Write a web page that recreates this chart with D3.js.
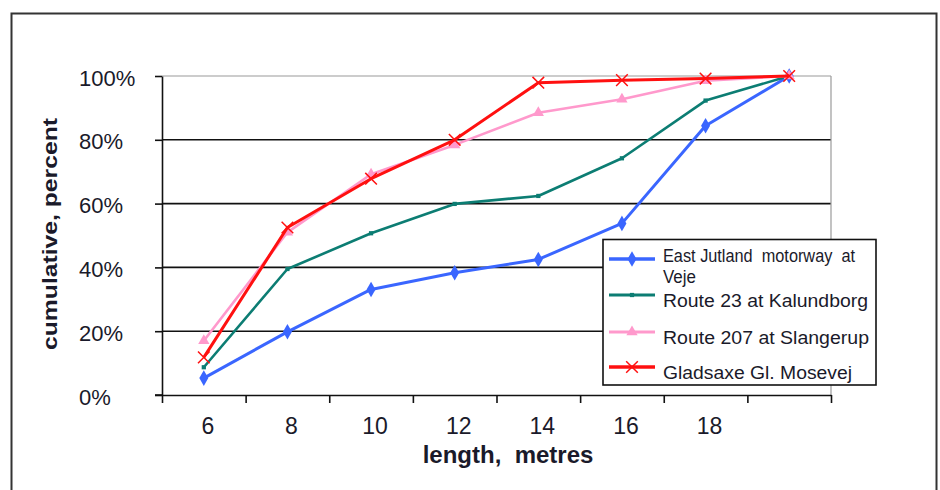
<!DOCTYPE html>
<html>
<head>
<meta charset="utf-8">
<script src="https://cdn.jsdelivr.net/npm/d3@7"></script>
<style>
  body { margin: 0; background: #fff; }
  svg { display: block; font-family: "Liberation Sans", Arial, sans-serif; }
</style>
</head>
<body>
<div id="chart"></div>
<script>
// categories: length in metres (last class has no label)
const lengths = [6, 8, 10, 12, 14, 16, 18, 20]
const lengthLabels = ['6', '8', '10', '12', '14', '16', '18', '']
const yTicks = [0, 20, 40, 60, 80, 100]

// cumulative percent per site
const eastJutland = [5.3, 19.8, 33.1, 38.3, 42.5, 53.8, 84.4, 100]
const route23 = [8.7, 39.5, 50.7, 59.9, 62.4, 74.2, 92.3, 100]
const route207 = [17, 51, 69.2, 78.4, 88.5, 92.7, 98.5, 100]
const gladsaxe = [11.8, 52.5, 67.8, 80, 97.9, 98.7, 99.2, 100]

const seriesNames = [['East Jutland  motorway  at', 'Veje'], ['Route 23 at Kalundborg'], ['Route 207 at Slangerup'], ['Gladsaxe Gl. Mosevej']]

const width = 940, height = 490
const plot = { left: 162, right: 831, top: 76, bottom: 395 }

const svg = d3.select('#chart').append('svg')
  .attr('width', width)
  .attr('height', height)

svg.append('rect').attr('width', width).attr('height', height).attr('fill', '#fff')
// outer chart frame
svg.append('rect')
  .attr('x', 11.5).attr('y', 13.5)
  .attr('width', 925).attr('height', 500)
  .attr('fill', 'none').attr('stroke', '#333').attr('stroke-width', 2)

const x = d3.scaleLinear().domain([0, lengths.length]).range([plot.left, plot.right])
const y = d3.scaleLinear().domain([0, 100]).range([plot.bottom, plot.top])

// gridlines
svg.append('g')
  .selectAll('line')
  .data(yTicks.filter(d => d > 0))
  .join('line')
  .attr('x1', plot.left).attr('x2', plot.right)
  .attr('y1', d => y(d)).attr('y2', d => y(d))
  .attr('stroke', d => d === 100 ? '#9a9a9a' : '#111')
  .attr('stroke-width', d => d === 100 ? 1.2 : 1.6)

// right border of plot area
svg.append('line')
  .attr('x1', plot.right).attr('x2', plot.right)
  .attr('y1', plot.top).attr('y2', plot.bottom)
  .attr('stroke', '#9a9a9a').attr('stroke-width', 1.2)

// y axis
const yAxis = svg.append('g')
  .attr('transform', `translate(${plot.left},0)`)
  .call(d3.axisLeft(y).tickValues(yTicks).tickSize(7).tickSizeOuter(0).tickFormat(d => d + '%'))
yAxis.select('.domain').attr('stroke', '#111').attr('stroke-width', 1.6)
yAxis.selectAll('.tick line').attr('stroke', '#111').attr('stroke-width', 1.6)
yAxis.selectAll('.tick text')
  .attr('text-anchor', 'start')
  .attr('x', 79 - plot.left)
  .attr('dy', null)
  .attr('y', 9)
  .attr('font-size', 22)
  .attr('font-family', '"Liberation Sans", Arial, sans-serif')
  .attr('fill', '#1a1a2a')

// x axis: ticks on category boundaries
const xAxis = svg.append('g')
  .attr('transform', `translate(0,${plot.bottom})`)
  .call(d3.axisBottom(x).tickValues(d3.range(lengths.length + 1)).tickSize(8).tickSizeOuter(0).tickFormat(''))
xAxis.select('.domain').attr('stroke', '#111').attr('stroke-width', 1.6)
xAxis.selectAll('.tick line').attr('stroke', '#111').attr('stroke-width', 1.6)
svg.append('line')
  .attr('x1', plot.left - 7).attr('x2', plot.left)
  .attr('y1', plot.bottom).attr('y2', plot.bottom)
  .attr('stroke', '#111').attr('stroke-width', 1.6)

svg.append('g')
  .selectAll('text')
  .data(lengthLabels)
  .join('text')
  .attr('x', (d, i) => x(i + 0.5) + 4)
  .attr('y', 434)
  .attr('text-anchor', 'middle')
  .attr('font-size', 23)
  .attr('fill', '#1a1a2a')
  .text(d => d)

// axis titles
svg.append('text')
  .attr('x', 508).attr('y', 463)
  .attr('text-anchor', 'middle')
  .attr('font-size', 24).attr('font-weight', 'bold')
  .attr('fill', '#1a1a2a')
  .attr('xml:space', 'preserve')
  .text('length,  metres')

svg.append('text')
  .attr('transform', 'translate(57,234) rotate(-90)')
  .attr('text-anchor', 'middle')
  .attr('font-size', 21).attr('font-weight', 'bold')
  .attr('fill', '#1a1a2a')
  .attr('textLength', 232).attr('lengthAdjust', 'spacingAndGlyphs')
  .text('cumulative, percent')

// series
const series = [
  { values: eastJutland, color: '#3a66ff', width: 3, symbol: d3.symbolDiamond, size: 70, stroke: false },
  { values: route23, color: '#0c7d73', width: 2.6, symbol: d3.symbolSquare, size: 18, stroke: false },
  { values: route207, color: '#ff99cc', width: 2.6, symbol: d3.symbolTriangle, size: 55, stroke: false },
  { values: gladsaxe, color: '#ff1010', width: 3, symbol: d3.symbolX, size: 90, stroke: true }
]

const line = d3.line()
  .x((d, i) => x(i + 0.5))
  .y(d => y(d))

series.forEach(s => {
  const g = svg.append('g')
  g.append('path')
    .attr('d', line(s.values))
    .attr('fill', 'none')
    .attr('stroke', s.color)
    .attr('stroke-width', s.width)
    .attr('stroke-linejoin', 'round')
  g.selectAll('path.mark')
    .data(s.values)
    .join('path')
    .attr('class', 'mark')
    .attr('transform', (d, i) => `translate(${x(i + 0.5)},${y(d)})`)
    .attr('d', d3.symbol(s.symbol, s.size))
    .attr('fill', s.stroke ? 'none' : s.color)
    .attr('stroke', s.stroke ? s.color : 'none')
    .attr('stroke-width', 1.5)
})

// legend
const legend = svg.append('g')
legend.append('rect')
  .attr('x', 603).attr('y', 239.5)
  .attr('width', 273).attr('height', 145.5)
  .attr('fill', '#fff').attr('stroke', '#111').attr('stroke-width', 1.6)

// sample line rows and the width each label line takes in the box
const legendY = [259, 295, 332, 367]
const legendTextWidth = [[192, 33], [205], [206], [189]]
series.forEach((s, i) => {
  const ly = legendY[i]
  legend.append('line')
    .attr('x1', 609).attr('x2', 655)
    .attr('y1', ly).attr('y2', ly)
    .attr('stroke', s.color).attr('stroke-width', s.width + 0.6)
  legend.append('path')
    .attr('transform', `translate(632,${ly})`)
    .attr('d', d3.symbol(s.symbol, s.size))
    .attr('fill', s.stroke ? 'none' : s.color)
    .attr('stroke', s.stroke ? s.color : 'none')
    .attr('stroke-width', 1.5)
  const lines = seriesNames[i]
  lines.forEach((name, k) => {
    legend.append('text')
      .attr('x', 663)
      .attr('y', (lines.length > 1 ? ly + 3 : ly + 12) + k * 21)
      .attr('font-size', 17.5)
      .attr('fill', '#1a1a2a')
      .attr('xml:space', 'preserve')
      .attr('textLength', legendTextWidth[i][k])
      .attr('lengthAdjust', 'spacingAndGlyphs')
      .text(name)
  })
})
</script>
</body>
</html>
